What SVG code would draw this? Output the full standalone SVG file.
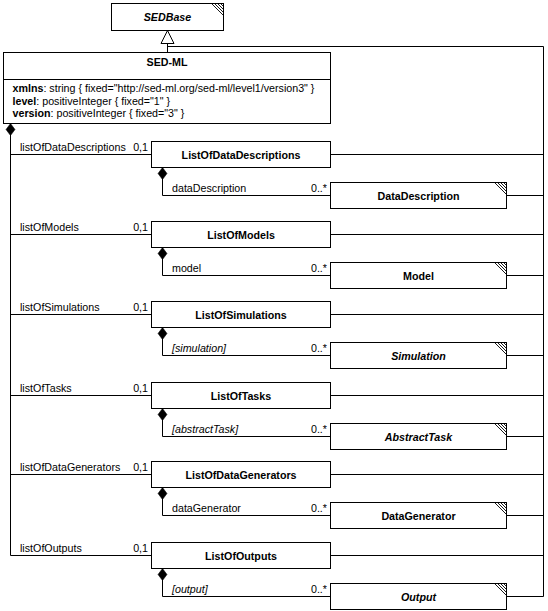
<svg xmlns="http://www.w3.org/2000/svg" width="548" height="611" viewBox="0 0 548 611">
<style>
.bx{fill:#fff;stroke:#000;stroke-width:1}
.ln{fill:none;stroke:#000;stroke-width:1}
.hc{fill:none;stroke:#000;stroke-width:0.9}
text{font-family:"Liberation Sans",Arial,Helvetica,sans-serif;font-size:10.7px;fill:#000}
.b{font-weight:bold}
.i{font-style:italic}
.c{text-anchor:middle}
.e{text-anchor:end}
.cmp{marker-start:url(#dia)}
</style>
<defs>
<marker id="dia" markerUnits="userSpaceOnUse" orient="auto" refX="0" refY="0" markerWidth="14" markerHeight="12" viewBox="-1 -5.5 14 11" overflow="visible">
<path d="M0,0 L6,-4.5 L12,0 L6,4.5 Z" fill="#000" stroke="#000" stroke-width="0.5"/>
</marker>
<marker id="gen" markerUnits="userSpaceOnUse" orient="auto" refX="0" refY="0" markerWidth="15" markerHeight="15" viewBox="-14 -7.5 15 15" overflow="visible">
<path d="M0,0 L-13,-6.5 L-13,6.5 Z" fill="#fff" stroke="#000" stroke-width="1"/>
</marker>
<path id="hatch" class="hc" d="M-12,0 L0,12 M-9,0 L0,9 M-6,0 L0,6 M-3,0 L0,3"/>
</defs>

<g id="connectors">
<path class="ln" d="M167.5,52.5 V30.5" marker-end="url(#gen)"/>
<path class="ln" d="M167.5,46.5 H543.5 V596.5"/>
<path class="ln cmp" d="M10.5,123.5 V555.5"/>
<path class="ln" d="M10.5,154.5 H151.5 M330.5,154.5 H543.5 M506.5,195.5 H543.5"/>
<path class="ln" d="M10.5,234.5 H151.5 M330.5,234.5 H543.5 M506.5,275.5 H543.5"/>
<path class="ln" d="M10.5,314.5 H151.5 M330.5,314.5 H543.5 M506.5,355.5 H543.5"/>
<path class="ln" d="M10.5,395.5 H151.5 M330.5,395.5 H543.5 M506.5,436.5 H543.5"/>
<path class="ln" d="M10.5,474.5 H151.5 M330.5,474.5 H543.5 M506.5,515.5 H543.5"/>
<path class="ln" d="M10.5,555.5 H151.5 M330.5,555.5 H543.5 M506.5,596.5 H543.5"/>
<path class="ln cmp" d="M162.5,167.5 V195.5 H330.5"/>
<path class="ln cmp" d="M162.5,247.5 V275.5 H330.5"/>
<path class="ln cmp" d="M162.5,327.5 V355.5 H330.5"/>
<path class="ln cmp" d="M162.5,408.5 V436.5 H330.5"/>
<path class="ln cmp" d="M162.5,487.5 V515.5 H330.5"/>
<path class="ln cmp" d="M162.5,568.5 V596.5 H330.5"/>
<g id="edge-labels">
<text x="20" y="150.5">listOfDataDescriptions</text><text class="e" x="148" y="150.5">0,1</text>
<text x="20" y="230.5">listOfModels</text><text class="e" x="148" y="230.5">0,1</text>
<text x="20" y="310.5">listOfSimulations</text><text class="e" x="148" y="310.5">0,1</text>
<text x="20" y="391.5">listOfTasks</text><text class="e" x="148" y="391.5">0,1</text>
<text x="20" y="470.5">listOfDataGenerators</text><text class="e" x="148" y="470.5">0,1</text>
<text x="20" y="551.5">listOfOutputs</text><text class="e" x="148" y="551.5">0,1</text>
<text x="172" y="192">dataDescription</text><text class="e" x="327" y="192">0..*</text>
<text x="172" y="272">model</text><text class="e" x="327" y="272">0..*</text>
<text class="i" x="172" y="352">[simulation]</text><text class="e" x="327" y="352">0..*</text>
<text class="i" x="172" y="433">[abstractTask]</text><text class="e" x="327" y="433">0..*</text>
<text x="172" y="512">dataGenerator</text><text class="e" x="327" y="512">0..*</text>
<text class="i" x="172" y="593">[output]</text><text class="e" x="327" y="593">0..*</text>
</g>
</g>

<g id="SEDBase">
<rect class="bx" x="111.5" y="3.5" width="112" height="27"/>
<use href="#hatch" x="223.5" y="3.5"/>
<text class="b i c" x="167.5" y="20.8">SEDBase</text>
</g>

<g id="SED-ML">
<rect class="bx" x="3.5" y="52.5" width="327" height="71"/>
<path class="ln" d="M3.5,79.5 H330.5"/>
<text class="b c" x="167" y="66">SED-ML</text>
<text x="12.5" y="92.3"><tspan class="b">xmlns</tspan>: string { fixed="http://sed-ml.org/sed-ml/level1/version3" }</text>
<text x="12.5" y="104.5"><tspan class="b">level</tspan>: positiveInteger { fixed="1" }</text>
<text x="12.5" y="116.7"><tspan class="b">version</tspan>: positiveInteger { fixed="3" }</text>
</g>

<g id="ListOfDataDescriptions">
<rect class="bx" x="151.5" y="141.5" width="179" height="26"/>
<text class="b c" x="241" y="158.5">ListOfDataDescriptions</text>
</g>
<g id="DataDescription">
<rect class="bx" x="330.5" y="182.5" width="176" height="26"/>
<use href="#hatch" x="506.5" y="182.5"/>
<text class="b c" x="418.5" y="199.5">DataDescription</text>
</g>

<g id="ListOfModels">
<rect class="bx" x="151.5" y="221.5" width="179" height="26"/>
<text class="b c" x="241" y="238.5">ListOfModels</text>
</g>
<g id="Model">
<rect class="bx" x="330.5" y="262.5" width="176" height="26"/>
<use href="#hatch" x="506.5" y="262.5"/>
<text class="b c" x="418.5" y="279.5">Model</text>
</g>

<g id="ListOfSimulations">
<rect class="bx" x="151.5" y="301.5" width="179" height="26"/>
<text class="b c" x="241" y="318.5">ListOfSimulations</text>
</g>
<g id="Simulation">
<rect class="bx" x="330.5" y="342.5" width="176" height="26"/>
<use href="#hatch" x="506.5" y="342.5"/>
<text class="b i c" x="418.5" y="359.5">Simulation</text>
</g>

<g id="ListOfTasks">
<rect class="bx" x="151.5" y="382.5" width="179" height="26"/>
<text class="b c" x="241" y="399.5">ListOfTasks</text>
</g>
<g id="AbstractTask">
<rect class="bx" x="330.5" y="423.5" width="176" height="26"/>
<use href="#hatch" x="506.5" y="423.5"/>
<text class="b i c" x="418.5" y="440.5">AbstractTask</text>
</g>

<g id="ListOfDataGenerators">
<rect class="bx" x="151.5" y="461.5" width="179" height="26"/>
<text class="b c" x="241" y="478.5">ListOfDataGenerators</text>
</g>
<g id="DataGenerator">
<rect class="bx" x="330.5" y="502.5" width="176" height="26"/>
<use href="#hatch" x="506.5" y="502.5"/>
<text class="b c" x="418.5" y="519.5">DataGenerator</text>
</g>

<g id="ListOfOutputs">
<rect class="bx" x="151.5" y="542.5" width="179" height="26"/>
<text class="b c" x="241" y="559.5">ListOfOutputs</text>
</g>
<g id="Output">
<rect class="bx" x="330.5" y="583.5" width="176" height="26"/>
<use href="#hatch" x="506.5" y="583.5"/>
<text class="b i c" x="418.5" y="600.5">Output</text>
</g>
</svg>
